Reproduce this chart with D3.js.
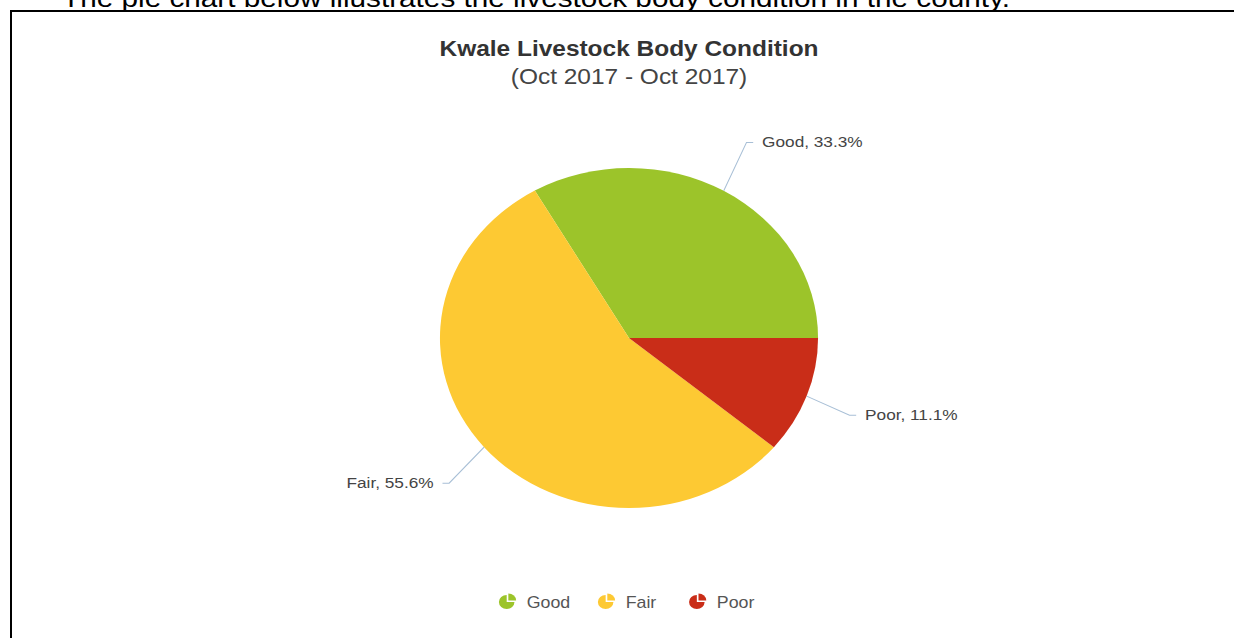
<!DOCTYPE html>
<html>
<head>
<meta charset="utf-8">
<script src="https://cdn.jsdelivr.net/npm/d3@7"></script>
<style>
  html, body { margin: 0; padding: 0; background: #fff; }
  svg { display: block; }
</style>
</head>
<body>
<div id="chart"></div>
<script>
// donnees du grafico
var categorias = ["Good", "Fair", "Poor"];
var percentuais = [33.3, 55.6, 11.1];
var cores = ["#9cc42a", "#fdc933", "#c92d18"];
var titulo = "Kwale Livestock Body Condition";
var subtitulo = "(Oct 2017 - Oct 2017)";
var frase = "The pie chart below illustrates the livestock body condition in the county.";

var width = 1234, height = 638;
var cx = 629, cy = 338;
var raio = 170;
var estica = 1.112; // imagem esticada na horizontal

var svg = d3.select("#chart")
            .append("svg")
            .attr("width", width)
            .attr("height", height);

svg.append("rect")
   .attr("width", width)
   .attr("height", height)
   .style("fill", "#fff");

// frase cortada no topo (como na imagem original)
svg.append("text")
   .attr("x", 62)
   .attr("y", 7)
   .attr("textLength", 948)
   .attr("lengthAdjust", "spacingAndGlyphs")
   .style("font-family", "'Liberation Sans', Arial, sans-serif")
   .style("font-size", "26px")
   .style("fill", "#000")
   .text(frase);

// moldura
svg.append("path")
   .attr("d", "M11," + height + "V11H" + width)
   .style("fill", "none")
   .style("stroke", "#000")
   .style("stroke-width", 2);

var g = svg.append("g")
           .attr("transform", "translate(" + cx + ",0) scale(" + estica + ",1)");

g.append("text")
 .attr("x", 0)
 .attr("y", 56)
 .attr("text-anchor", "middle")
 .style("font-family", "'Liberation Sans', Arial, sans-serif")
 .style("font-size", "22px")
 .style("font-weight", "bold")
 .style("fill", "#333")
 .text(titulo);

g.append("text")
 .attr("x", 0)
 .attr("y", 84)
 .attr("text-anchor", "middle")
 .style("font-family", "'Liberation Sans', Arial, sans-serif")
 .style("font-size", "22px")
 .style("fill", "#444")
 .text(subtitulo);

var dados = categorias.map(function(c, i){
    return {nome: c, valor: percentuais[i], cor: cores[i]};
});

// sentido anti-horario a partir das 3 horas
var pie = d3.pie()
            .sort(null)
            .value(function(d){ return d.valor; })
            .startAngle(Math.PI / 2)
            .endAngle(Math.PI / 2 - 2 * Math.PI);

var arc = d3.arc().innerRadius(0).outerRadius(raio);

var fatias = pie(dados);

var pg = g.append("g").attr("transform", "translate(0," + cy + ")");

pg.selectAll("path.fatia")
  .data(fatias)
  .enter()
  .append("path")
  .attr("class", "fatia")
  .attr("d", arc)
  .style("fill", function(d){ return d.data.cor; })
  .style("stroke", "none");

// conectores e rotulos
var rx = raio + 41, ry = raio + 56;

fatias.forEach(function(d){
    var a = (d.startAngle + d.endAngle) / 2;
    var sx = Math.sin(a), sy = -Math.cos(a);
    var x0 = sx * raio, y0 = sy * raio;
    var x1 = sx * rx, y1 = sy * ry;
    var lado = sx >= 0 ? 1 : -1;
    var x2 = x1 + lado * 6;

    pg.append("path")
      .attr("d", "M" + x0 + "," + y0 + "L" + x1 + "," + y1 + "L" + x2 + "," + y1)
      .style("fill", "none")
      .style("stroke", "#a8bfd6")
      .style("stroke-width", 1);

    pg.append("text")
      .attr("x", x2 + lado * 8)
      .attr("y", y1 + 5)
      .attr("text-anchor", lado > 0 ? "start" : "end")
      .style("font-family", "'Liberation Sans', Arial, sans-serif")
      .style("font-size", "15.5px")
      .style("fill", "#444")
      .text(d.data.nome + ", " + d.data.valor + "%");
});

// legenda
var legX = [-110, -21, 61];
var icone = d3.arc().innerRadius(0).outerRadius(7);
var leg = g.append("g").attr("transform", "translate(0,602)");

dados.forEach(function(d, i){
    var item = leg.append("g").attr("transform", "translate(" + legX[i] + ",0)");
    item.append("path")
        .attr("d", icone({startAngle: Math.PI / 2, endAngle: 2 * Math.PI}))
        .style("fill", d.cor);
    item.append("path")
        .attr("transform", "translate(1.5,-1.5)")
        .attr("d", icone({startAngle: 0, endAngle: Math.PI / 2}))
        .style("fill", d.cor);
    item.append("text")
        .attr("x", 18)
        .attr("y", 6)
        .style("font-family", "'Liberation Sans', Arial, sans-serif")
        .style("font-size", "16px")
        .style("fill", "#555")
        .text(d.nome);
});
</script>
</body>
</html>
